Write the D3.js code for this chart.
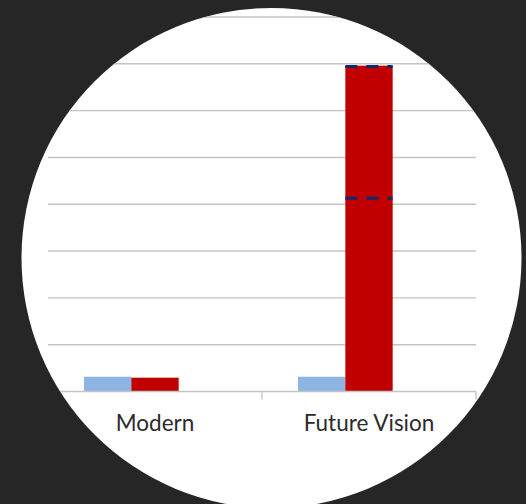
<!DOCTYPE html>
<html>
<head>
<meta charset="utf-8">
<script src="https://cdn.jsdelivr.net/npm/d3@7"></script>
<style>
  html, body { margin: 0; padding: 0; background: #262626; }
  svg { display: block; }
</style>
</head>
<body>
<svg id="chart" width="526" height="504"></svg>
<script>
// Categories and series
const categories = ["Modern", "Future Vision"];
const seriesNames = ["Series A", "Series B", "Series C"];
const seriesA = [3.15, 3.15];   // light blue
const seriesB = [2.95, 69.6];   // red
const seriesC = [0, 0];         // empty third series
// Dashed markers drawn across the red bar
const markerCategory = ["Future Vision", "Future Vision"];
const markerValues = [69.4, 41.3];
// Value axis gridlines
const yTicks = [0, 10, 20, 30, 40, 50, 60, 70, 80];

(function () {
  const svg = d3.select("#chart");
  const W = 526, H = 504;
  const plotLeft = 48, plotRight = 476, plotTop = 17, plotBottom = 391.5;

  // circular frame
  const cx = 271.5, cy = 258, r = 250;
  svg.append("defs").append("clipPath").attr("id", "circ")
    .append("circle").attr("cx", cx).attr("cy", cy).attr("r", r);

  svg.append("rect").attr("width", W).attr("height", H).attr("fill", "#262626");
  const g = svg.append("g").attr("clip-path", "url(#circ)");
  g.append("rect").attr("width", W).attr("height", H).attr("fill", "#ffffff");

  const x0 = d3.scaleBand().domain(categories).range([plotLeft, plotRight]).paddingInner(0).paddingOuter(0);
  const x1 = d3.scaleBand().domain(seriesNames).range([0, x0.bandwidth()]).paddingInner(0).paddingOuter(0.76);
  const y = d3.scaleLinear().domain([0, 80]).range([plotBottom, plotTop]);

  // gridlines
  g.append("g").selectAll("line").data(yTicks.filter(d => d > 0)).join("line")
    .attr("x1", plotLeft).attr("x2", plotRight)
    .attr("y1", d => y(d)).attr("y2", d => y(d))
    .attr("stroke", "#c4c4c4").attr("stroke-width", 1.4);

  // bars
  const rows = categories.map((c, i) => ({ cat: c, vals: [seriesA[i], seriesB[i], seriesC[i]] }));
  const colors = ["#8db4e2", "#c00000", "#4f81bd"];
  const grp = g.append("g").selectAll("g").data(rows).join("g")
    .attr("transform", d => `translate(${x0(d.cat)},0)`);
  grp.selectAll("rect").data(d => d.vals.map((v, k) => ({ s: seriesNames[k], v, k })).filter(d => d.v > 0))
    .join("rect")
    .attr("x", d => x1(d.s))
    .attr("width", x1.bandwidth())
    .attr("y", d => y(d.v))
    .attr("height", d => y(0) - y(d.v))
    .attr("fill", d => colors[d.k]);

  // dashed markers
  g.append("g").selectAll("line").data(markerValues).join("line")
    .attr("x1", (d, i) => x0(markerCategory[i]) + x1("Series B"))
    .attr("x2", (d, i) => x0(markerCategory[i]) + x1("Series B") + x1.bandwidth())
    .attr("y1", d => y(d)).attr("y2", d => y(d))
    .attr("stroke", "#13286a").attr("stroke-width", 3)
    .attr("stroke-dasharray", "12,9");

  // category axis
  const xAxis = d3.axisBottom(x0).tickSize(0).tickPadding(0);
  const ax = g.append("g").attr("transform", `translate(0,${plotBottom})`);
  ax.append("line").attr("x1", plotLeft).attr("x2", plotRight).attr("y1", 0).attr("y2", 0)
    .attr("stroke", "#c4c4c4").attr("stroke-width", 1.4);
  // boundary ticks between categories
  const bounds = categories.map(c => x0(c)).concat([plotRight]);
  ax.selectAll("line.tk").data(bounds).join("line").attr("class", "tk")
    .attr("x1", d => d).attr("x2", d => d).attr("y1", 0).attr("y2", 8)
    .attr("stroke", "#c4c4c4").attr("stroke-width", 1.4);
  const axg = ax.append("g").call(xAxis);
  axg.select(".domain").remove();
  axg.selectAll("text")
    .attr("y", 39.5).attr("dy", 0)
    .attr("font-family", "Lato, 'Open Sans', sans-serif")
    .attr("font-size", 22.5)
    .attr("fill", "#2b2b2b");
})();
</script>
</body>
</html>
